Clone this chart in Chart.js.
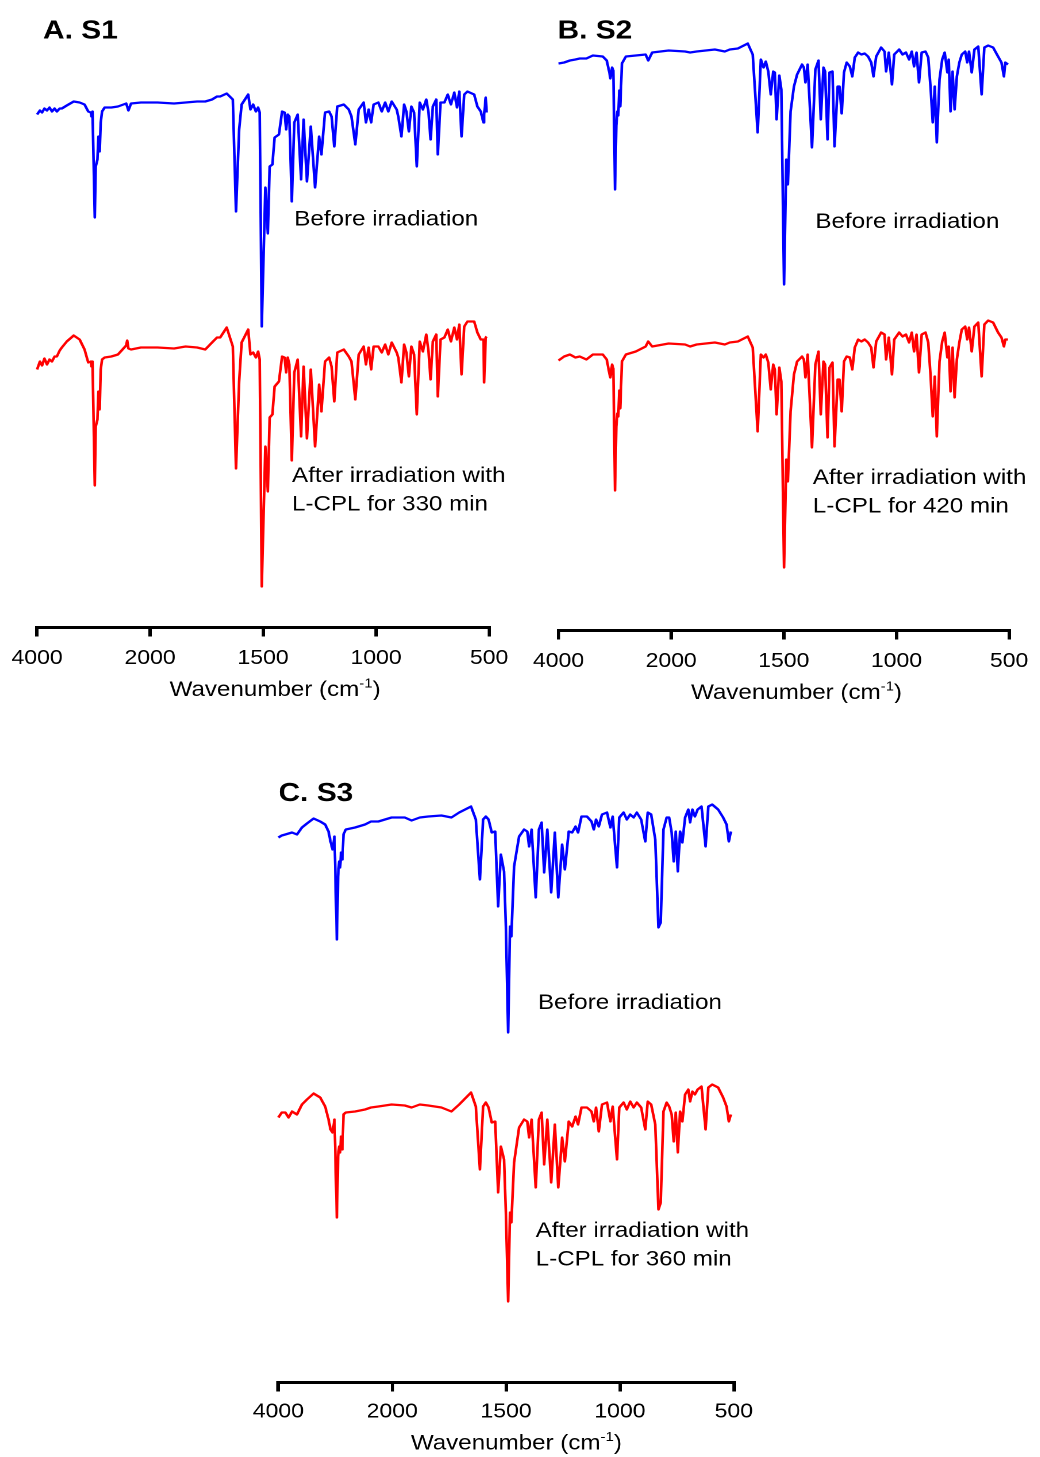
<!DOCTYPE html>
<html>
<head>
<meta charset="utf-8">
<script src="https://cdn.jsdelivr.net/npm/chart.js@4.4.1/dist/chart.umd.min.js"></script>
<style>
  html, body { margin: 0; padding: 0; background: #fff; overflow: hidden; }
  body { width: 1040px; height: 1457px; position: relative; }
  .panel { position: absolute; transform-origin: 0 0; }
</style>
</head>
<body>
<div class="panel" id="wrapA"><canvas id="chartA"></canvas></div>
<div class="panel" id="wrapB"><canvas id="chartB"></canvas></div>
<div class="panel" id="wrapC"><canvas id="chartC"></canvas></div>
<script>
// wavenumber axis ticks (cm-1); 4000-2000 is squeezed to the width of one 500 step
const TICK_LABELS = [4000, 2000, 1500, 1000, 500];

// S1 spectra (offset transmittance, a.u.)
const WN_S1 = [4000, 3950, 3912, 3870, 3825, 3780, 3737, 3690, 3650, 3600, 3562, 3475, 3352, 3247, 3160, 3095, 3049, 3037, 3019, 2979,
  2962, 2932, 2914, 2892, 2874, 2850, 2804, 2687, 2569, 2424, 2405, 2384, 2337, 2162, 1967, 1894, 1843, 1792, 1756, 1726,
  1704, 1690, 1661, 1634, 1620, 1606, 1595, 1566, 1556, 1544, 1532, 1522, 1515, 1506, 1490, 1479, 1471, 1459, 1449, 1430,
  1416, 1405, 1398, 1391, 1384, 1373, 1362, 1347, 1332, 1321, 1306, 1289, 1270, 1252, 1242, 1226, 1208, 1197, 1185, 1172,
  1143, 1121, 1109, 1092, 1077, 1055, 1045, 1033, 1022, 1011, 990, 975, 960, 946, 931, 909, 902, 888, 876, 866,
  855, 844, 832, 820, 807, 793, 778, 768, 759, 749, 734, 727, 715, 698, 683, 669, 654, 642, 632, 622,
  610, 596, 566, 552, 537, 525, 522, 515, 511];
const S1_BEFORE = [513, 517, 515, 519, 517, 520, 516, 519, 516, 519, 519, 522, 526, 525, 523, 516, 515, 511, 516, 410,
  461, 468, 491, 476, 505, 516, 520, 520, 521, 524, 521, 517, 524, 525, 525, 524, 525, 526, 526, 528,
  531, 531, 534, 528, 416, 498, 523, 533, 518, 523, 516, 520, 515, 301, 440, 394, 461, 463, 490, 493,
  516, 515, 498, 513, 511, 426, 505, 513, 448, 508, 446, 501, 440, 491, 473, 515, 516, 511, 481, 521,
  523, 518, 511, 483, 518, 525, 505, 518, 505, 523, 525, 516, 525, 516, 526, 518, 511, 491, 523, 516,
  496, 521, 515, 461, 525, 518, 528, 515, 488, 521, 528, 473, 525, 525, 533, 523, 535, 520, 536, 491,
  533, 536, 533, 521, 516, 505, 513, 530, 515];
const S1_AFTER = [258, 266, 262, 269, 263, 268, 266, 271, 271, 277, 280, 286, 292, 288, 278, 265, 266, 261, 266, 142,
  201, 208, 236, 218, 258, 268, 270, 271, 273, 282, 287, 279, 278, 280, 280, 279, 281, 280, 278, 285,
  290, 290, 300, 281, 159, 246, 285, 298, 273, 275, 270, 276, 268, 41, 181, 136, 210, 213, 241, 246,
  271, 270, 255, 270, 263, 167, 255, 268, 191, 261, 189, 258, 181, 243, 216, 266, 270, 261, 226, 275,
  278, 271, 266, 228, 273, 281, 263, 280, 258, 281, 281, 275, 283, 273, 285, 275, 270, 245, 283, 275,
  251, 281, 273, 213, 286, 276, 293, 276, 248, 286, 293, 231, 288, 290, 298, 286, 300, 288, 303, 253,
  301, 306, 306, 295, 288, 288, 245, 290, 291];

// S2 spectra
const WN_S2 = [4000, 3900, 3798, 3700, 3623, 3505, 3390, 3214, 3144, 3097, 3079, 3049, 3027, 2997, 2974, 2956, 2939, 2921, 2904, 2874,
  2804, 2628, 2453, 2407, 2337, 2044, 1938, 1916, 1887, 1806, 1762, 1740, 1704, 1660, 1638, 1616, 1602, 1590, 1580, 1569,
  1558, 1547, 1540, 1532, 1520, 1511, 1499, 1489, 1482, 1470, 1455, 1441, 1419, 1411, 1404, 1394, 1375, 1360, 1346, 1336,
  1324, 1317, 1306, 1297, 1284, 1275, 1261, 1253, 1243, 1233, 1221, 1207, 1196, 1185, 1170, 1156, 1141, 1126, 1112, 1102,
  1090, 1068, 1053, 1046, 1034, 1020, 1010, 988, 973, 958, 944, 932, 922, 911, 900, 888, 871, 859, 849, 839,
  830, 821, 809, 797, 786, 774, 768, 760, 751, 742, 732, 721, 710, 695, 686, 678, 666, 654, 637, 622,
  610, 593, 571, 549, 534, 523, 517, 505];
const S2_BEFORE = [567, 568, 570, 571, 572, 572, 575, 574, 570, 558, 552, 563, 560, 441, 505, 519, 515, 540, 524, 567,
  574, 575, 576, 570, 578, 580, 579, 578, 579, 581, 579, 581, 582, 587, 576, 498, 571, 563, 569, 559,
  536, 559, 558, 511, 555, 541, 346, 471, 446, 519, 544, 556, 566, 563, 548, 566, 483, 561, 570, 511,
  563, 559, 491, 558, 559, 484, 544, 544, 517, 558, 568, 564, 554, 573, 578, 576, 577, 574, 568, 554,
  574, 583, 579, 559, 578, 546, 576, 581, 576, 578, 571, 579, 564, 578, 548, 578, 579, 573, 544, 508,
  544, 488, 551, 571, 578, 558, 571, 519, 559, 521, 554, 568, 576, 579, 568, 579, 558, 581, 584, 536,
  583, 585, 583, 574, 568, 554, 568, 566];
const S2_AFTER = [270, 274, 276, 273, 274, 271, 276, 276, 271, 257, 253, 266, 262, 140, 204, 217, 214, 240, 222, 269,
  276, 279, 284, 289, 284, 287, 286, 284, 286, 288, 286, 288, 289, 294, 283, 199, 276, 273, 276, 268,
  241, 266, 261, 216, 263, 249, 63, 171, 149, 219, 256, 269, 274, 271, 253, 276, 183, 266, 279, 216,
  269, 266, 193, 263, 268, 184, 251, 251, 219, 269, 274, 273, 261, 283, 291, 289, 291, 288, 283, 263,
  289, 298, 296, 271, 293, 256, 291, 298, 294, 296, 288, 298, 279, 296, 258, 296, 298, 288, 256, 214,
  254, 194, 269, 289, 298, 273, 284, 239, 283, 233, 271, 288, 301, 304, 291, 303, 279, 304, 308, 254,
  306, 310, 308, 298, 293, 284, 291, 291];

// S3 spectra
const WN_S3 = [4000, 3940, 3878, 3820, 3760, 3673, 3586, 3498, 3381, 3265, 3178, 3119, 3084, 3049, 3014, 2973, 2951, 2933, 2916, 2898,
  2874, 2857, 2816, 2653, 2478, 2373, 2244, 2011, 1945, 1915, 1879, 1842, 1784, 1740, 1706, 1654, 1633, 1615, 1601, 1589,
  1577, 1563, 1548, 1535, 1523, 1509, 1501, 1491, 1483, 1477, 1465, 1443, 1421, 1407, 1399, 1388, 1370, 1356, 1344, 1333,
  1319, 1302, 1286, 1271, 1254, 1242, 1225, 1210, 1195, 1184, 1169, 1145, 1125, 1115, 1105, 1093, 1079, 1057, 1042, 1032,
  1013, 1003, 984, 970, 955, 940, 926, 907, 889, 878, 863, 845, 831, 821, 809, 795, 784, 773, 764, 755,
  746, 736, 726, 714, 700, 692, 682, 671, 659, 642, 624, 612, 595, 569, 547, 532, 522, 513];
const S3_BEFORE = [545, 547, 548, 549, 550, 548, 555, 559, 564, 561, 558, 551, 541, 533, 546, 443, 506, 521, 515, 530,
  523, 548, 553, 555, 558, 561, 561, 565, 565, 562, 565, 566, 567, 565, 570, 576, 563, 503, 563, 566,
  563, 550, 551, 476, 528, 511, 456, 350, 456, 446, 516, 546, 553, 551, 536, 553, 485, 553, 560, 510,
  553, 490, 550, 485, 538, 513, 551, 550, 556, 550, 566, 566, 561, 553, 563, 556, 568, 570, 555, 566,
  515, 565, 570, 563, 568, 565, 570, 563, 541, 570, 568, 543, 455, 460, 553, 565, 565, 550, 521, 551,
  511, 551, 540, 565, 573, 560, 573, 566, 573, 576, 536, 576, 578, 573, 565, 558, 541, 551];
const S3_AFTER = [265, 270, 270, 265, 271, 268, 278, 283, 289, 285, 276, 263, 253, 250, 263, 165, 226, 236, 230, 246,
  233, 268, 270, 271, 273, 275, 276, 278, 277, 275, 278, 277, 275, 271, 278, 290, 276, 213, 276, 280,
  275, 260, 261, 190, 236, 223, 170, 81, 170, 160, 220, 255, 263, 261, 245, 263, 195, 263, 270, 218,
  263, 200, 258, 195, 245, 221, 261, 256, 266, 258, 275, 275, 271, 261, 275, 251, 278, 280, 261, 276,
  223, 275, 280, 273, 281, 275, 280, 275, 253, 281, 278, 258, 173, 180, 271, 280, 276, 268, 241, 270,
  230, 271, 261, 288, 293, 281, 291, 288, 293, 296, 253, 295, 298, 295, 285, 276, 261, 268];

// piecewise axis: 4000-2000 -> 0..1, then every 500 cm-1 is one unit
function toAxis(w) {
  return w >= 2000 ? (4000 - w) / 2000 : 1 + (2000 - w) / 500;
}
function fromAxis(u) {
  return u <= 1 ? Math.round(4000 - 2000 * u) : Math.round(2000 - 500 * (u - 1));
}

const SX = 1.15;           // lettering is drawn slightly wide
const CANVAS_W = 452;
const CANVAS_H = 700;
const AXIS_ROW = 627.5;    // chart bottom inside each canvas
const PAD_TOP = 20;
const TICK_LEN = 9;
const TICK_FONT = 20;
const FONT = '"Liberation Sans", Arial, Helvetica, sans-serif';

const PANELS = [
  {
    canvas: 'chartA', wrap: 'wrapA', left: 0, top: 0, axisStart: 35, axisEnd: 491.7, tickPad: 10, axisTitleDy: 68.5,
    title: 'A. S1', titleX: 43, titleY: 38.5,
    wn: WN_S1, before: S1_BEFORE, after: S1_AFTER,
    notes: [
      { lines: ['Before irradiation'], wn: 1362, at: 402 },
      { lines: ['After irradiation with', 'L-CPL for 330 min'], wn: 1372, at: 145.5 }
    ]
  },
  {
    canvas: 'chartB', wrap: 'wrapB', left: 520, top: 3, axisStart: 558.5, axisEnd: 1014.5, tickPad: 10, axisTitleDy: 68.5,
    title: 'B. S2', titleX: 557.5, titleY: 38.5,
    wn: WN_S2, before: S2_BEFORE, after: S2_AFTER,
    notes: [
      { lines: ['Before irradiation'], wn: 1360, at: 402.7 },
      { lines: ['After irradiation with', 'L-CPL for 420 min'], wn: 1371, at: 146.7 }
    ]
  },
  {
    canvas: 'chartC', wrap: 'wrapC', left: 243, top: 755.2, axisStart: 278.3, axisEnd: 735.7, tickPad: 8.5, axisTitleDy: 67,
    title: 'C. S3', titleX: 278.5, titleY: 801,
    wn: WN_S3, before: S3_BEFORE, after: S3_AFTER,
    notes: [
      { lines: ['Before irradiation'], wn: 1360, at: 373.7 },
      { lines: ['After irradiation with', 'L-CPL for 360 min'], wn: 1370, at: 145.7 }
    ]
  }
];

// panel letter, in-plot notes and the axis title with its superscript
const panelText = {
  id: 'panelText',
  afterDraw(chart, args, opts) {
    const { ctx, chartArea, scales } = chart;
    ctx.save();
    ctx.fillStyle = '#000';
    ctx.textAlign = 'left';
    ctx.textBaseline = 'alphabetic';

    ctx.font = 'bold 26px ' + FONT;
    ctx.fillText(opts.title, opts.titleX, opts.titleY);

    ctx.font = '21px ' + FONT;
    opts.notes.forEach(n => {
      const x = scales.x.getPixelForValue(toAxis(n.wn));
      const y = scales.y.getPixelForValue(n.at);
      n.lines.forEach((line, i) => ctx.fillText(line, x, y + i * 28.5));
    });

    const tx = chartArea.left + 132.5 / SX;
    const ty = chartArea.bottom + opts.axisTitleDy;
    const main = 'Wavenumber (cm';
    ctx.font = '21px ' + FONT;
    ctx.fillText(main, tx, ty);
    let x = tx + ctx.measureText(main).width;
    ctx.font = '13px ' + FONT;
    ctx.fillText('-1', x, ty - 8.5);
    x += ctx.measureText('-1').width;
    ctx.font = '21px ' + FONT;
    ctx.fillText(')', x, ty);
    ctx.restore();
  }
};

PANELS.forEach(p => {
  const wrap = document.getElementById(p.wrap);
  wrap.style.left = p.left + 'px';
  wrap.style.top = p.top + 'px';
  wrap.style.width = CANVAS_W + 'px';
  wrap.style.height = CANVAS_H + 'px';
  wrap.style.transform = 'scaleX(' + SX + ')';

  const canvas = document.getElementById(p.canvas);
  canvas.width = CANVAS_W;
  canvas.height = CANVAS_H;

  const padLeft = (p.axisStart - p.left) / SX;
  const padRight = CANVAS_W - (p.axisEnd - p.left) / SX;
  const scaleHeight = TICK_LEN + TICK_FONT * 1.2 + 2 * p.tickPad;
  const padBottom = CANVAS_H - AXIS_ROW - scaleHeight;

  const line = (vals, color) => ({
    data: p.wn.map((w, i) => ({ x: toAxis(w), y: vals[i] })),
    borderColor: color,
    borderWidth: 2.3,
    borderJoinStyle: 'round',
    pointRadius: 0,
    tension: 0,
    clip: false
  });

  new Chart(canvas.getContext('2d'), {
    type: 'line',
    data: {
      datasets: [line(p.before, '#0000ff'), line(p.after, '#ff0000')]
    },
    options: {
      responsive: false,
      animation: false,
      devicePixelRatio: 2,
      layout: { padding: { left: padLeft, right: padRight, top: PAD_TOP, bottom: padBottom } },
      plugins: {
        legend: { display: false },
        tooltip: { enabled: false },
        panelText: {
          title: p.title,
          titleX: (p.titleX - p.left) / SX,
          titleY: p.titleY - p.top,
          notes: p.notes,
          axisTitleDy: p.axisTitleDy
        }
      },
      scales: {
        x: {
          type: 'linear',
          min: 0,
          max: 4,
          afterBuildTicks: axis => {
            axis.ticks = TICK_LABELS.map(w => ({ value: toAxis(w) }));
          },
          ticks: {
            callback: v => String(fromAxis(v)),
            color: '#000',
            font: { family: FONT, size: TICK_FONT },
            padding: p.tickPad,
            maxRotation: 0,
            autoSkip: false
          },
          grid: { drawOnChartArea: false, drawTicks: true, tickLength: TICK_LEN, color: '#000', lineWidth: 3 },
          border: { display: true, color: '#000', width: 3 }
        },
        y: { display: false, min: 0, max: AXIS_ROW - PAD_TOP }
      }
    },
    plugins: [panelText]
  });
});
</script>
</body>
</html>
